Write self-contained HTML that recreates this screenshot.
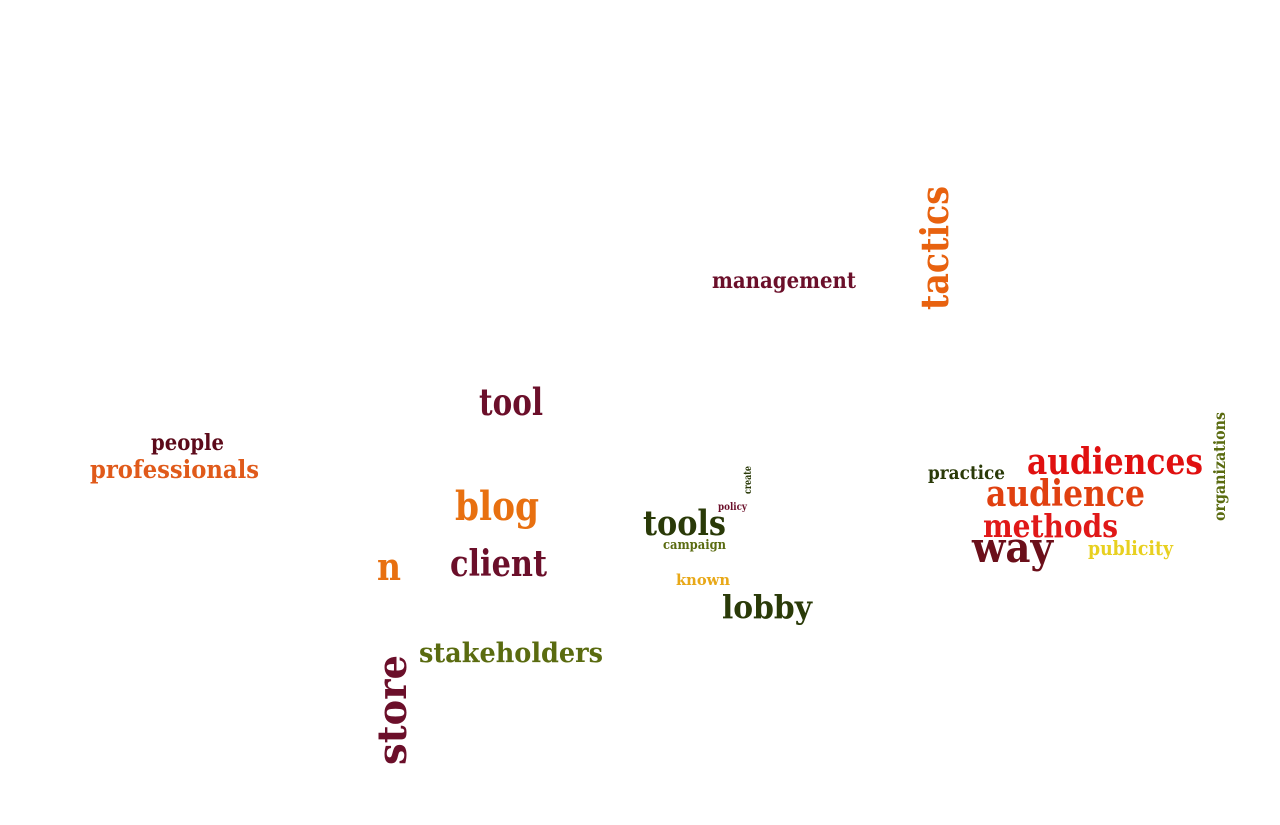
<!DOCTYPE html>
<html><head><meta charset="utf-8"><style>
html,body{margin:0;padding:0;background:#fff;width:1280px;height:825px;overflow:hidden}
svg text{font-family:"DejaVu Serif","Liberation Serif",serif;font-weight:bold}
</style></head><body>
<svg id="cloud" width="1280" height="825" viewBox="0 0 1280 825" xmlns="http://www.w3.org/2000/svg"></svg>
<script>
const words = ["tactics","management","tool","people","professionals","blog","client","n","stakeholders","store","tools","policy","create","campaign","known","lobby","practice","audiences","audience","methods","way","publicity","organizations"];
const sizes = [38,22,37,22,25,40,36,38,27,40,35,10,10,13,15,32,19,36,36,32,42,20,16];
const colors = ["#e8620f","#6b0f2a","#6b0f2a","#5c0a1a","#e05a1a","#e87010","#6b0f2a","#e87010","#5a6b10","#6b0f2a","#2a3a08","#6b0f2a","#2a3a08","#5a6b10","#e8a818","#2a3a08","#2a3a08","#e01010","#e04010","#e01818","#6b0f1a","#e8d020","#5a6b10"];
// layout: x, y (baseline anchor), length, vertical
const layout = [
 [948,310,124,1],[712,288,144,0],[479,415,64,0],[151,450,73,0],[90,478,169,0],
 [455,520,84,0],[450,576,97,0],[377,580,24,0],[419,662,184,0],[406,765,110,1],
 [643,535,83,0],[718,510,29,0],[751,494,28,1],[663,549,63,0],[676,585,54,0],
 [722,618,90,0],[928,479,77,0],[1027,474,176,0],[986,506,159,0],[983,537,135,0],
 [972,562,81,0],[1088,555,85,0],[1225,521,109,1]
];
const svg=document.getElementById('cloud');
const NS='http://www.w3.org/2000/svg';
words.forEach((w,i)=>{
  const [x,y,len,v]=layout[i];
  const t=document.createElementNS(NS,'text');
  
  
  t.setAttribute('x',x);t.setAttribute('y',y);
  t.setAttribute('font-size',sizes[i]);
  t.setAttribute('fill',colors[i]);
  t.setAttribute('textLength',len);
  t.setAttribute('lengthAdjust','spacingAndGlyphs');
  if(v) t.setAttribute('transform','rotate(-90 '+x+' '+y+')');
  t.textContent=w;
  svg.appendChild(t);
});
</script>
</body></html>
